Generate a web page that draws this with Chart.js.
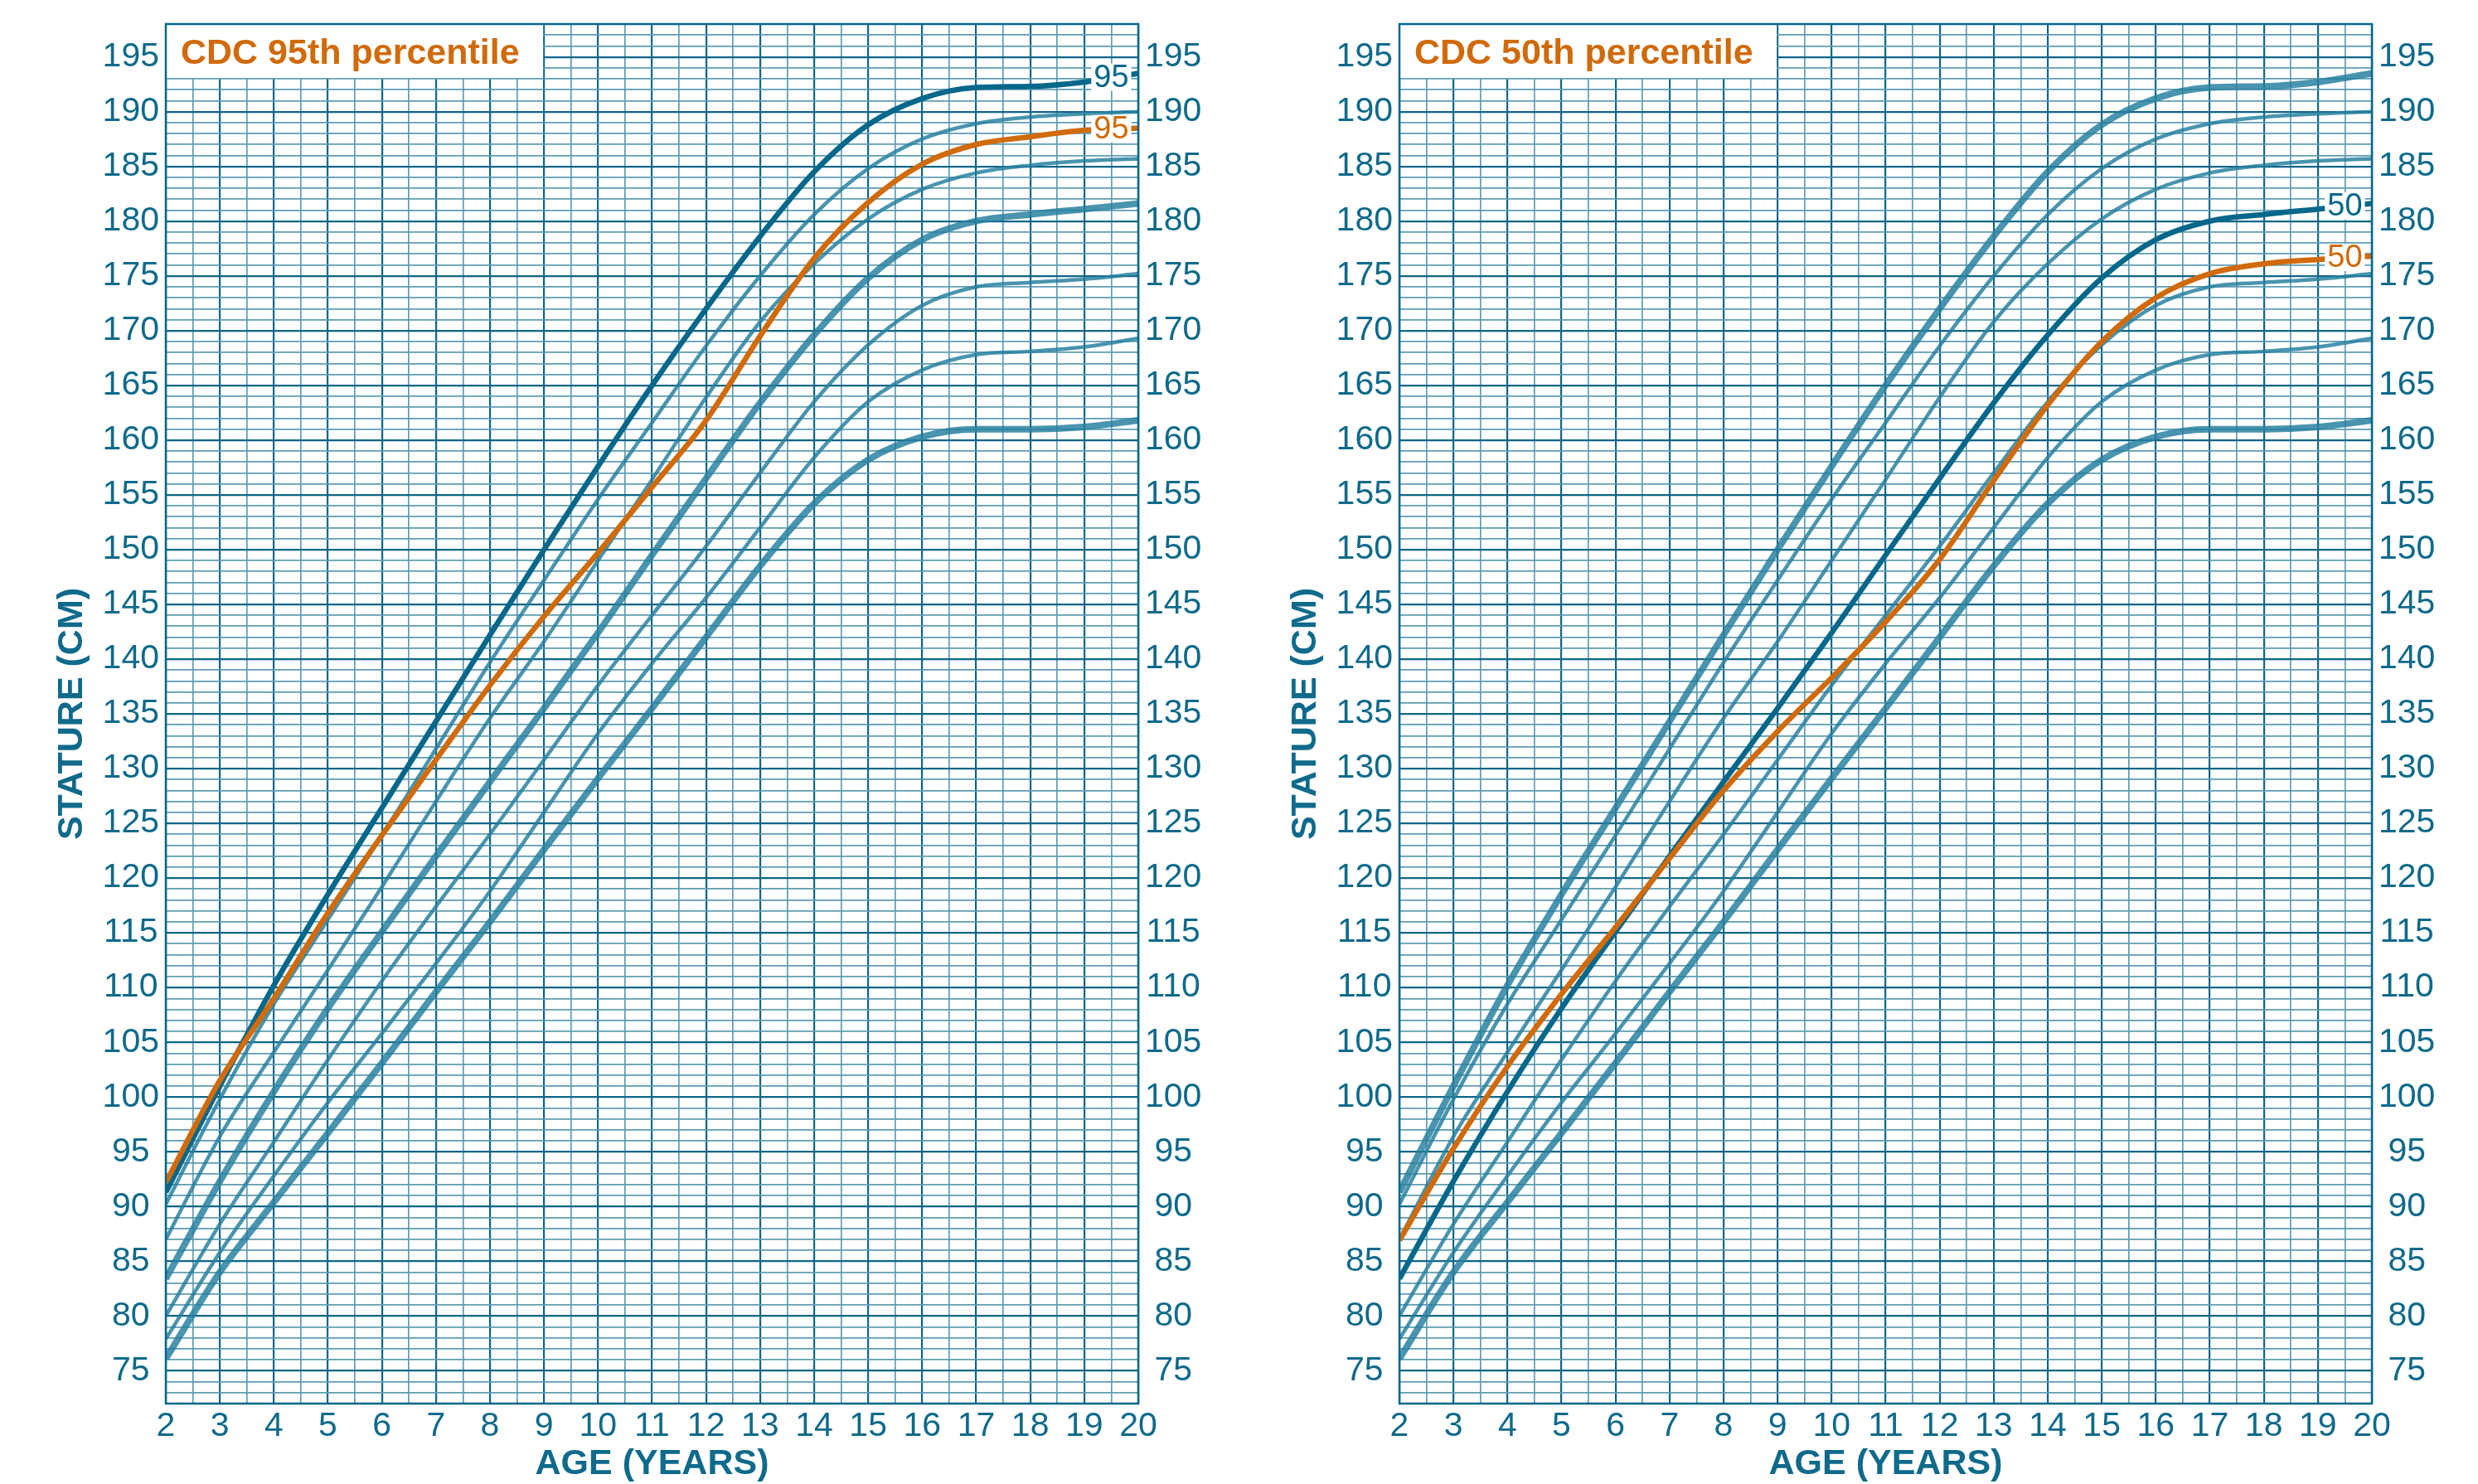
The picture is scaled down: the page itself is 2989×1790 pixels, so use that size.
<!DOCTYPE html>
<html>
<head>
<meta charset="utf-8">
<script src="https://cdn.jsdelivr.net/npm/chart.js@4.4.1/dist/chart.umd.min.js"></script>
<style>
  html, body { margin: 0; padding: 0; background: #fff; }
  body { width: 2989px; height: 1790px; position: relative; overflow: hidden; }
  canvas { position: absolute; top: 0; }
  #chart-95 { left: 0; }
  #chart-50 { left: 1488px; }
</style>
</head>
<body>
<canvas id="chart-95" width="1488" height="1790"></canvas>
<canvas id="chart-50" width="1488" height="1790"></canvas>
<script>
const ages = [2, 3, 4, 5, 6, 7, 8, 9, 10, 11, 12, 13, 14, 15, 16, 17, 18, 19, 20];

// Reference percentile curves (blue), stature in cm
const ref05 = [76.1, 84.0, 90.4, 96.7, 103.1, 109.6, 116.0, 122.6, 129.1, 135.5, 142.0, 148.5, 154.2, 158.2, 160.3, 161.0, 161.0, 161.2, 161.8];
const ref10 = [77.9, 85.8, 92.8, 99.5, 105.8, 112.2, 118.8, 126.0, 133.2, 139.6, 145.6, 152.0, 158.4, 163.5, 166.4, 167.8, 168.1, 168.5, 169.3];
const ref25 = [80.0, 88.4, 95.9, 103.4, 110.6, 117.4, 124.0, 130.8, 137.6, 144.0, 150.3, 157.0, 163.5, 168.7, 172.3, 174.0, 174.4, 174.7, 175.2];
const ref50 = [83.4, 92.3, 100.5, 108.1, 115.1, 122.0, 128.8, 135.5, 142.4, 149.5, 156.5, 163.4, 169.6, 174.8, 178.3, 180.0, 180.6, 181.1, 181.6];
const ref75 = [87.0, 96.4, 104.1, 111.6, 119.2, 127.0, 134.6, 141.6, 149.0, 156.4, 163.9, 170.8, 176.1, 180.2, 182.9, 184.4, 185.1, 185.5, 185.7];
const ref90 = [90.2, 99.8, 108.5, 116.2, 123.9, 131.8, 139.7, 147.2, 154.6, 161.6, 168.6, 175.0, 180.6, 184.8, 187.5, 188.9, 189.5, 189.8, 190.0];
const ref95 = [91.3, 101.0, 110.2, 118.5, 126.4, 134.3, 142.2, 150.0, 157.6, 165.0, 172.0, 178.6, 184.5, 188.8, 191.2, 192.2, 192.3, 192.7, 193.5];

// CDC curves (orange)
const cdc95 = [92.2, 101.5, 109.0, 116.8, 123.9, 130.8, 137.6, 143.9, 149.7, 155.7, 161.8, 169.5, 176.6, 181.7, 185.2, 187.0, 187.7, 188.3, 188.5];
const cdc50 = [86.9, 95.3, 102.8, 109.4, 115.5, 121.8, 128.0, 133.4, 138.3, 143.4, 149.1, 156.3, 163.2, 169.0, 173.0, 175.2, 176.1, 176.5, 176.8];

// Tick labels
const ageTicks = [2, 3, 4, 5, 6, 7, 8, 9, 10, 11, 12, 13, 14, 15, 16, 17, 18, 19, 20];
const statureTicks = [75, 80, 85, 90, 95, 100, 105, 110, 115, 120, 125, 130, 135, 140, 145, 150, 155, 160, 165, 170, 175, 180, 185, 190, 195];

// Colours
const FONT = "'Liberation Sans', Arial, Helvetica, sans-serif";
const TEXT_BLUE = "#0f6a8b";
const DARK_BLUE = "#05678a";
const LINE_BLUE = "rgba(38, 128, 158, 0.84)";
const ORANGE = "#d06a0a";
const GRID_MAJOR = "#0e6688";
const GRID_MINOR = "#5e9cb4";

//Helper Functions
const toPoints = (values) => ages.map((age, i) => ({ x: age, y: values[i] }));

const valueAtAge = (values, age) => {
  for (let i = 0; i < ages.length - 1; i++) {
    if (age >= ages[i] && age <= ages[i + 1]) {
      const t = (age - ages[i]) / (ages[i + 1] - ages[i]);
      return values[i] + t * (values[i + 1] - values[i]);
    }
  }
  return values[values.length - 1];
};

const refCurves = [ref05, ref10, ref25, ref50, ref75, ref90, ref95];
const thickCurves = [ref05, ref50, ref95];

// White box with the panel title, drawn over the grid
const titleBoxPlugin = {
  id: "titleBox",
  beforeDatasetsDraw(chart, args, opts) {
    const { ctx, chartArea, scales } = chart;
    const right = scales.x.getPixelForValue(9) - 1;
    const bottom = scales.y.getPixelForValue(193) - 1;
    ctx.save();
    ctx.fillStyle = "#ffffff";
    ctx.fillRect(chartArea.left, chartArea.top, right - chartArea.left, bottom - chartArea.top);
    ctx.fillStyle = ORANGE;
    ctx.font = `bold 43px ${FONT}`;
    ctx.textBaseline = "alphabetic";
    ctx.textAlign = "left";
    ctx.fillText(opts.text, chartArea.left + 18, chartArea.top + 48);
    ctx.restore();
  },
};

// Curve tags ("95", "50") near age 19.5, plus the frame
const curveTagPlugin = {
  id: "curveTags",
  afterDatasetsDraw(chart) {
    const { ctx, chartArea, scales } = chart;
    ctx.save();
    ctx.font = `38px ${FONT}`;
    ctx.textAlign = "center";
    ctx.textBaseline = "middle";
    chart.data.datasets.forEach((dataset) => {
      if (!dataset.tag) return;
      const x = scales.x.getPixelForValue(19.5);
      const y = scales.y.getPixelForValue(valueAtAge(dataset.values, 19.5));
      const w = ctx.measureText(dataset.tag).width + 6;
      ctx.fillStyle = "#ffffff";
      ctx.fillRect(x - w / 2, y - 17, w, 33);
      ctx.fillStyle = dataset.borderColor;
      ctx.fillText(dataset.tag, x, y + 1);
    });
    ctx.strokeStyle = DARK_BLUE;
    ctx.lineWidth = 2.5;
    ctx.strokeRect(chartArea.left, chartArea.top, chartArea.right - chartArea.left, chartArea.bottom - chartArea.top);
    ctx.restore();
  },
};

const statureAxis = (position) => ({
  type: "linear",
  position: position,
  min: 72,
  max: 198,
  afterFit: (scale) => {
    scale.width = position === "left" ? 200 : 115;
    scale.paddingTop = 0;
    scale.paddingBottom = 0;
  },
  ticks: {
    stepSize: 1,
    autoSkip: false,
    crossAlign: "center",
    padding: 8,
    color: TEXT_BLUE,
    font: { family: FONT, size: 41 },
    callback: (value) => (statureTicks.includes(value) ? String(value) : ""),
  },
  grid: {
    display: position === "left",
    drawTicks: false,
    color: (ctx) => (ctx.tick && ctx.tick.value % 5 === 0 ? GRID_MAJOR : GRID_MINOR),
    lineWidth: (ctx) => (ctx.tick && ctx.tick.value % 5 === 0 ? 2.2 : 1.7),
  },
  border: { display: false },
  title: {
    display: position === "left",
    text: "STATURE (CM)",
    color: TEXT_BLUE,
    font: { family: FONT, size: 43, weight: "bold", lineHeight: 1 },
    padding: { top: 66, bottom: 0 },
  },
});

//Charts
const drawPanel = (canvasId, title, highlight, cdcCurve, tag) => {
  const canvas = document.getElementById(canvasId);
  // Chart Data
  const datasets = refCurves.map((curve) => {
    const isHighlight = curve === highlight;
    return {
      data: toPoints(curve),
      values: curve,
      tag: isHighlight ? tag : null,
      borderColor: isHighlight ? DARK_BLUE : LINE_BLUE,
      borderWidth: isHighlight ? 6.5 : thickCurves.includes(curve) ? 8 : 4.5,
      order: isHighlight ? 2 : 3,
    };
  });
  datasets.push({
    data: toPoints(cdcCurve),
    values: cdcCurve,
    tag: tag,
    borderColor: ORANGE,
    borderWidth: 6.5,
    order: 1,
  });
  datasets.forEach((dataset) => {
    dataset.pointRadius = 0;
    dataset.fill = false;
    dataset.cubicInterpolationMode = "monotone";
  });
  // Chart Settings
  const chartSettings = {
    responsive: false,
    animation: false,
    devicePixelRatio: 1,
    layout: { padding: { top: 29, right: 0, bottom: 0, left: 0 } },
    plugins: {
      legend: { display: false },
      tooltip: { enabled: false },
      titleBox: { text: title },
    },
    scales: {
      x: {
        type: "linear",
        min: 2,
        max: 20,
        afterFit: (scale) => {
          scale.height = 97;
          scale.paddingLeft = 0;
          scale.paddingRight = 0;
        },
        ticks: {
          stepSize: 0.5,
          autoSkip: false,
          maxRotation: 0,
          padding: 3,
          color: TEXT_BLUE,
          font: { family: FONT, size: 41 },
          callback: (value) => (ageTicks.includes(value) ? String(value) : ""),
        },
        grid: {
          drawTicks: false,
          color: (ctx) => (ctx.tick && Number.isInteger(ctx.tick.value) ? GRID_MAJOR : GRID_MINOR),
          lineWidth: (ctx) => (ctx.tick && Number.isInteger(ctx.tick.value) ? 2.2 : 1.7),
        },
        border: { display: false },
        title: {
          display: true,
          text: "AGE (YEARS)",
          color: TEXT_BLUE,
          font: { family: FONT, size: 43, weight: "bold", lineHeight: 1 },
          padding: { top: 0, bottom: 2 },
        },
      },
      y: statureAxis("left"),
      yRight: statureAxis("right"),
    },
  };
  // Drawing the chart
  new Chart(canvas, {
    type: "line",
    data: { datasets: datasets },
    options: chartSettings,
    plugins: [titleBoxPlugin, curveTagPlugin],
  });
};

drawPanel("chart-95", "CDC 95th percentile", ref95, cdc95, "95");
drawPanel("chart-50", "CDC 50th percentile", ref50, cdc50, "50");
</script>
</body>
</html>
